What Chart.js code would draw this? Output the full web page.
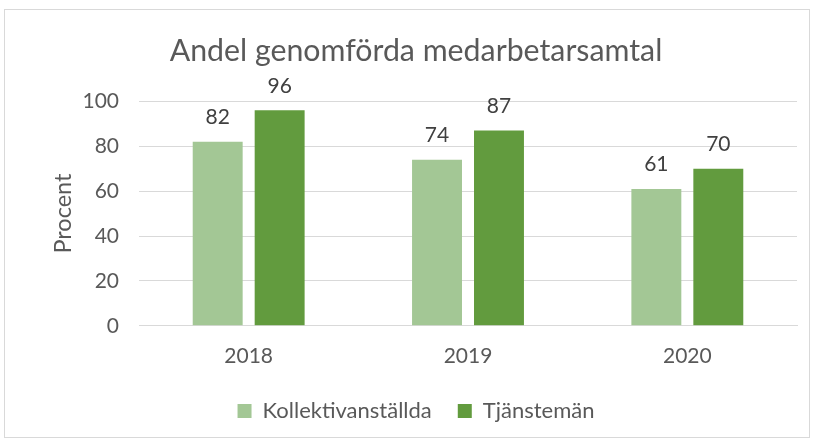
<!DOCTYPE html>
<html>
<head>
<meta charset="utf-8">
<script src="https://cdn.jsdelivr.net/npm/chart.js@4/dist/chart.umd.min.js"></script>
<style>
  html, body { margin: 0; padding: 0; background: #fff; }
  #wrap {
    position: absolute; left: 4px; top: 9px;
    width: 806px; height: 429px;
    border: 1px solid #d9d9d9; box-sizing: border-box;
  }
  #chart { display: block; }
</style>
</head>
<body>
<div id="wrap"><canvas id="chart" width="804" height="427"></canvas></div>
<script>
// Datos del gráfico
const years = ['2018', '2019', '2020'];
const kollektiv = [82, 74, 61];
const tjanstemen = [96, 87, 70];
const yTicks = [0, 20, 40, 60, 80, 100];

const FONT = 'Lato';

// Plugin propio para las etiquetas de valor encima de las barras
const valueLabels = {
    id: 'valueLabels',
    afterDatasetsDraw(chart) {
        const ctx = chart.ctx;
        ctx.save();
        ctx.font = '21px ' + FONT;
        ctx.fillStyle = '#404040';
        ctx.textAlign = 'center';
        ctx.textBaseline = 'bottom';
        chart.data.datasets.forEach((ds, i) => {
            const meta = chart.getDatasetMeta(i);
            meta.data.forEach((bar, j) => {
                ctx.fillText(String(ds.data[j]), bar.x, bar.y - 14);
            });
        });
        ctx.restore();
    }
};

new Chart(document.getElementById('chart'), {
    type: 'bar',
    data: {
        labels: years,
        datasets: [
            {
                label: 'Kollektivanställda',
                data: kollektiv,
                backgroundColor: '#a3c795'
            },
            {
                label: 'Tjänstemän',
                data: tjanstemen,
                backgroundColor: '#629b3e'
            }
        ]
    },
    options: {
        responsive: false,
        animation: false,
        layout: {
            padding: { left: 30, right: 12, top: 0, bottom: 5 }
        },
        datasets: {
            bar: {
                categoryPercentage: 0.565,
                barPercentage: 0.806
            }
        },
        plugins: {
            title: {
                display: true,
                text: 'Andel genomförda medarbetarsamtal',
                color: '#595959',
                font: { family: FONT, size: 30.3, weight: 'normal' },
                padding: { top: 23, bottom: 32 }
            },
            legend: {
                position: 'bottom',
                labels: {
                    color: '#595959',
                    font: { family: FONT, size: 22 },
                    boxWidth: 14,
                    boxHeight: 14,
                    padding: 26
                }
            },
            tooltip: { enabled: false }
        },
        scales: {
            x: {
                grid: { display: false, drawTicks: false },
                border: { color: '#d9d9d9', width: 1 },
                ticks: {
                    color: '#595959',
                    font: { family: FONT, size: 21 },
                    padding: 18
                },
                afterFit(scale) {
                    scale.height -= 13;
                }
            },
            y: {
                min: 0,
                max: 100,
                afterBuildTicks(scale) {
                    scale.ticks = yTicks.map(v => ({ value: v }));
                },
                afterFit(scale) {
                    scale.width = 104;
                },
                grid: { color: '#d9d9d9', drawTicks: false },
                border: { display: false },
                ticks: {
                    color: '#595959',
                    font: { family: FONT, size: 21 },
                    padding: 20
                },
                title: {
                    display: true,
                    text: 'Procent',
                    color: '#595959',
                    font: { family: FONT, size: 23.5 },
                    padding: { top: 14, bottom: 0 }
                }
            }
        }
    },
    plugins: [valueLabels]
});
</script>
</body>
</html>
